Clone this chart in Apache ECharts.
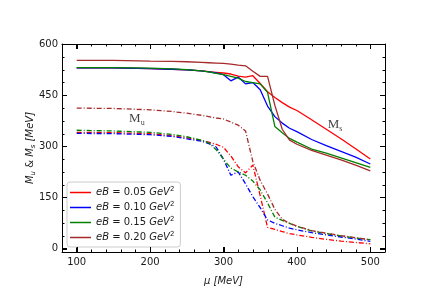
<!DOCTYPE html>
<html><head><meta charset="utf-8">
<script src="https://cdn.jsdelivr.net/npm/echarts@6/dist/echarts.min.js"></script>
<style>html,body{margin:0;padding:0;background:#fff}#c{width:436px;height:297px}</style>
</head><body><div id="c"></div>
<script>
// chemical potential mu [MeV]
const mu = [100,150,200,230,250,270,280,290,300,310,320,330,340,350,360,370,380,390,400,420,440,460,480,500];
// strange quark mass M_s (solid)
const Ms005 = [530,530,528,526,524,521,519,517,515,512,506,503,507,484,460,443,428,415,405,378,350,322,293,263];
const Ms010 = [530,530,528,526,524,521,518,515,510,492,503,483,487,466,418,387,368,353,343,320,302,285,268,248];
const Ms015 = [531,531,529,527,525,521,518,514,510,505,500,490,487,483,458,358,340,323,312,292,280,266,252,238];
const Ms020 = [552,552,550,549,548,546,545,544,543,541,538,536,520,505,505,420,350,318,306,288,274,260,245,228];
// up quark mass M_u (dash-dot)
const Mu005 = [341,340,337,331,325,317,312,306,297,272,240,222,245,155,62,56,50,44,40,33,27,22,18,14];
const Mu010 = [338,337,334,329,322,315,308,298,262,215,225,190,152,120,84,74,67,60,55,47,40,34,28,21];
const Mu015 = [347,345,341,335,328,318,310,290,262,236,225,215,198,172,134,92,83,74,65,52,44,37,31,26];
const Mu020 = [412,411,407,402,397,391,387,383,380,371,362,345,255,200,160,115,86,74,66,53,45,38,32,26];
const eBvals = ['0.05','0.10','0.15','0.20'];
const xMajor = [100,200,300,400,500];
const xMinor = [120,140,160,180,220,240,260,280,320,340,360,380,420,440,460,480];
const yMajor = [0,150,300,450,600];
const yMinor = [37.5,75,112.5,187.5,225,262.5,337.5,375,412.5,487.5,525,562.5];
const xRange = [80,520];
const yRange = [-10,600];
const annotPos = [[182,380],[452,363]];
const annotSub = ['u','s'];

const MsAll = [Ms005,Ms010,Ms015,Ms020];
const MuAll = [Mu005,Mu010,Mu015,Mu020];
const colors = ['#ff0000','#0000ff','#008000','#a52a2a'];
const ink = '#000000';
const txt = '#1a1a1a';
const chart = echarts.init(document.getElementById('c'));

function xAx(pos) {
  const a = {type:'value', min:xRange[0], max:xRange[1], position:pos,
    axisLine:{show:true, onZero:false, lineStyle:{color:ink, width:1}},
    axisTick:{show:true, inside:true, length:5, customValues:xMajor, lineStyle:{color:ink, width:1}},
    axisLabel:{show:false}, splitLine:{show:false}};
  if (pos === 'bottom') a.axisLabel = {show:true, customValues:xMajor, margin:5, fontFamily:'DejaVu Sans', fontSize:10, color:txt};
  return a;
}
function yAx(pos) {
  const a = {type:'value', min:yRange[0], max:yRange[1], position:pos,
    axisLine:{show:true, onZero:false, lineStyle:{color:ink, width:1}},
    axisTick:{show:true, inside:true, length:5, customValues:yMajor, lineStyle:{color:ink, width:1}},
    axisLabel:{show:false}, splitLine:{show:false}};
  if (pos === 'left') a.axisLabel = {show:true, customValues:yMajor, margin:4, fontFamily:'DejaVu Sans', fontSize:10, color:txt};
  return a;
}
const xAxes = [xAx('bottom'), xAx('top')];
xAxes[0].name = '{i|μ [MeV]}';
xAxes[0].nameLocation = 'middle';
xAxes[0].nameGap = 24;
xAxes[0].nameMoveOverlap = false;
xAxes[0].nameTextStyle = {fontFamily:'DejaVu Sans', fontSize:10, color:txt, rich:{i:{fontStyle:'italic', fontFamily:'DejaVu Sans', fontSize:10, color:txt}}};
const yAxes = [yAx('left'), yAx('right')];
yAxes[0].name = '{i|M}{sub|u}{n| & }{i|M}{sub|s}{n| }{i|[MeV]}';
yAxes[0].nameLocation = 'middle';
yAxes[0].nameRotate = 90;
yAxes[0].nameGap = 25;
yAxes[0].nameMoveOverlap = false;
yAxes[0].nameTextStyle = {fontFamily:'DejaVu Sans', fontSize:10, color:txt, rich:{
  i:{fontStyle:'italic', fontFamily:'DejaVu Sans', fontSize:10, color:txt, lineHeight:14},
  n:{fontFamily:'DejaVu Sans', fontSize:10, color:txt, lineHeight:14},
  sub:{fontStyle:'italic', fontFamily:'DejaVu Sans', fontSize:7, color:txt, lineHeight:8, padding:[6,0,0,0]}
}};

const series = [];
for (let i = 0; i < 4; i++) {
  series.push({name:'eB' + eBvals[i], type:'line', symbol:'none', xAxisIndex:0, yAxisIndex:0,
    lineStyle:{color:colors[i], width:1.3}, itemStyle:{color:colors[i]},
    data: mu.map((m,j)=>[m, MsAll[i][j]])});
}
for (let i = 0; i < 4; i++) {
  series.push({name:'eB' + eBvals[i], type:'line', symbol:'none', xAxisIndex:0, yAxisIndex:0,
    lineStyle:{color:colors[i], width:1.3, type:[5,2,1,2]}, itemStyle:{color:colors[i]},
    data: mu.map((m,j)=>[m, MuAll[i][j]])});
}
series.push({name:'annot', type:'scatter', xAxisIndex:0, yAxisIndex:0, symbolSize:1, silent:true,
  itemStyle:{color:'rgba(0,0,0,0)'},
  data: annotPos.map(p=>({value:p})),
  label:{show:true, position:'inside', formatter: p => '{m|M}{s|' + annotSub[p.dataIndex] + '}',
    rich:{m:{fontFamily:'Liberation Serif', fontSize:13, color:'#111', lineHeight:16},
          s:{fontFamily:'Liberation Serif', fontSize:8, color:'#111', lineHeight:8, padding:[8,0,0,0]}}}});

chart.setOption({
  animation:false,
  grid:{left:62, right:51, top:44, bottom:45},
  xAxis:xAxes, yAxis:yAxes,
  legend:{data:eBvals.map(v=>'eB'+v), orient:'vertical', left:67, top:182,
    icon:'rect', itemWidth:21, itemHeight:1.5, itemGap:2, padding:[4,6,3,3],
    borderColor:'#cccccc', borderWidth:1, borderRadius:3, backgroundColor:'rgba(255,255,255,0.85)',
    formatter: n => '{i|eB}{n| = ' + n.slice(2) + ' }{i|GeV}{sup|2}',
    textStyle:{fontFamily:'DejaVu Sans', fontSize:10, color:txt, rich:{
      i:{fontStyle:'italic', fontFamily:'DejaVu Sans', fontSize:10, color:txt, lineHeight:13},
      n:{fontFamily:'DejaVu Sans', fontSize:10, color:txt, lineHeight:13},
      sup:{fontFamily:'DejaVu Sans', fontSize:7, color:txt, lineHeight:8, padding:[0,0,6,0]}
    }}},
  series:series
});

// tick marks on all four spines, placed through the axes' own scales
const ticks = [];
const xb = chart.convertToPixel({yAxisIndex:0}, yRange[0]);
const xt = chart.convertToPixel({yAxisIndex:0}, yRange[1]);
const yl = chart.convertToPixel({xAxisIndex:0}, xRange[0]);
const yr = chart.convertToPixel({xAxisIndex:0}, xRange[1]);
function vline(px, y0, y1) { const x = Math.round(px) + 0.5; ticks.push({type:'line', silent:true, z:50, shape:{x1:x, y1:y0, x2:x, y2:y1}, style:{stroke:ink, lineWidth:1}}); }
function hline(py, x0, x1) { const y = Math.round(py) + 0.5; ticks.push({type:'line', silent:true, z:50, shape:{x1:x0, y1:y, x2:x1, y2:y}, style:{stroke:ink, lineWidth:1}}); }
xMajor.forEach(v => { const p = chart.convertToPixel({xAxisIndex:0}, v); vline(p, xb, xb - 5); vline(p, xt, xt + 5); });
xMinor.forEach(v => { const p = chart.convertToPixel({xAxisIndex:0}, v); vline(p, xb, xb - 2.5); vline(p, xt, xt + 2.5); });
yMajor.forEach(v => { const p = chart.convertToPixel({yAxisIndex:0}, v); hline(p, yl, yl + 5); hline(p, yr, yr - 5); });
yMinor.forEach(v => { const p = chart.convertToPixel({yAxisIndex:0}, v); hline(p, yl, yl + 2.5); hline(p, yr, yr - 2.5); });
chart.setOption({graphic:ticks});
</script></body></html>
